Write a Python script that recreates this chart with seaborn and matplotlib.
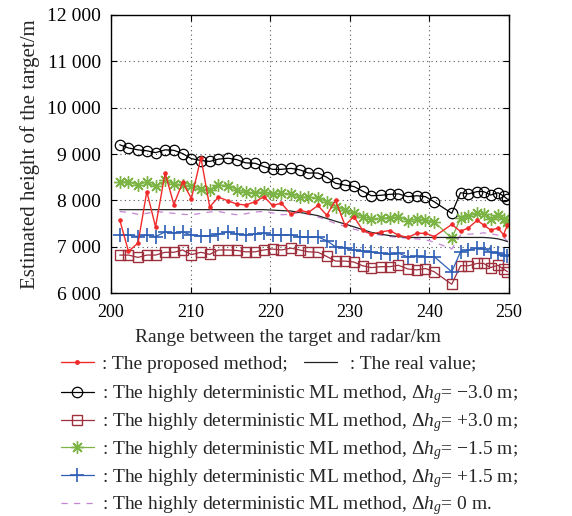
import pandas as pd
import seaborn as sns
import matplotlib.pyplot as plt
from matplotlib.lines import Line2D
from matplotlib.ticker import FuncFormatter, MultipleLocator

# range between target and radar (km)
range_km = [201.1, 202.2, 203.4, 204.5, 205.6, 206.8, 207.9, 209.0, 210.1, 211.3,
            212.4, 213.5, 214.7, 215.8, 216.9, 218.1, 219.2, 220.3, 221.4, 222.6,
            223.7, 224.8, 226.0, 227.1, 228.2, 229.4, 230.5, 231.6, 232.7, 233.9,
            235.0, 236.1, 237.3, 238.4, 239.5, 240.6, 242.8, 243.9, 244.9, 246.0,
            246.8, 247.7, 248.6, 249.3, 249.8]

proposed = [7580, 6900, 7080, 8190, 7430, 8590, 7910, 8390, 8040, 8920,
            7860, 8070, 7990, 7920, 7900, 7970, 8080, 7890, 7940, 7700,
            7790, 7740, 7890, 7680, 8000, 7460, 7650, 7360, 7270, 7320,
            7350, 7250, 7200, 7290, 7290, 7220, 7480, 7330, 7410, 7570,
            7470, 7360, 7400, 7260, 7470]

real_value = [7800, 7800, 7800, 7800, 7800, 7800, 7800, 7800, 7800, 7800,
              7800, 7800, 7800, 7800, 7800, 7800, 7800, 7790, 7780, 7770,
              7740, 7710, 7670, 7610, 7550, 7490, 7430, 7370, 7310, 7270,
              7240, 7220, 7200, 7200, 7200, 7200, 7200, 7200, 7200, 7200,
              7200, 7190, 7170, 7140, 7110]

ml_minus30 = [9200, 9130, 9090, 9070, 9030, 9090, 9080, 9010, 8900, 8860,
              8840, 8890, 8910, 8880, 8810, 8800, 8730, 8670, 8670, 8690,
              8660, 8590, 8590, 8500, 8370, 8330, 8300, 8200, 8100, 8110,
              8130, 8140, 8080, 8100, 8080, 7970, 7720, 8165, 8140, 8190,
              8190, 8115, 8165, 8095, 8025]

ml_plus30 = [6820, 6820, 6770, 6820, 6820, 6880, 6880, 6930, 6830, 6880,
             6835, 6930, 6930, 6920, 6890, 6890, 6930, 6950, 6930, 6970,
             6930, 6890, 6880, 6790, 6690, 6690, 6670, 6590, 6550, 6570,
             6570, 6600, 6520, 6500, 6530, 6460, 6190, 6590, 6590, 6640,
             6640, 6550, 6600, 6520, 6460]

ml_minus15 = [8400, 8400, 8330, 8400, 8300, 8430, 8350, 8340, 8300, 8240,
              8230, 8330, 8320, 8225, 8190, 8150, 8190, 8130, 8150, 8140,
              8070, 8070, 8050, 7970, 7865, 7790, 7720, 7650, 7600, 7610,
              7630, 7640, 7560, 7600, 7580, 7540, 7180, 7610, 7660, 7720,
              7705, 7590, 7685, 7590, 7540]

ml_plus15 = [7250, 7250, 7220, 7250, 7220, 7320, 7300, 7320, 7250, 7230,
             7230, 7275, 7320, 7275, 7250, 7275, 7290, 7250, 7260, 7250,
             7215, 7200, 7210, 7130, 7000, 6980, 6930, 6900, 6880, 6860,
             6840, 6860, 6780, 6790, 6785, 6785, 6460, 6890, 6930, 6965,
             6955, 6890, 6860, 6820, 6790]

ml_zero = [7760, 7740, 7700, 7720, 7760, 7740, 7720, 7700, 7690, 7720,
           7750, 7760, 7720, 7690, 7710, 7750, 7760, 7730, 7690, 7700,
           7740, 7700, 7640, 7580, 7500, 7440, 7380, 7330, 7280, 7250,
           7220, 7200, 7180, 7170, 7150, 7100, 6950, 7250, 7270, 7280,
           7300, 7280, 7250, 7200, 7120]

df = pd.DataFrame({
    "range": range_km,
    "proposed": proposed,
    "real": real_value,
    "m30": ml_minus30,
    "p30": ml_plus30,
    "m15": ml_minus15,
    "p15": ml_plus15,
    "zero": ml_zero,
})

sns.set_theme(style="ticks")
SERIF = ["Liberation Serif", "DejaVu Serif"]
plt.rcParams["font.family"] = SERIF
plt.rcParams["mathtext.fontset"] = "custom"
plt.rcParams["mathtext.rm"] = "Liberation Serif"
plt.rcParams["mathtext.it"] = "Liberation Serif:italic"
plt.rcParams["font.size"] = 13

RED = "#f02a2a"
DARKRED = "#9e2f3c"
GREEN = "#7cb445"
BLUE = "#2f5fb5"
PURPLE = "#c585d4"

styles = {
    "m30": dict(color="black", marker="o", markersize=7.5, markerfacecolor="none",
                markeredgecolor="black", markeredgewidth=0.9, linewidth=0.9),
    "p30": dict(color=DARKRED, marker="s", markersize=6.5, markerfacecolor="none",
                markeredgecolor=DARKRED, markeredgewidth=1.0, linewidth=0.9),
    "m15": dict(color=GREEN, marker=(8, 2, 0), markersize=9, markeredgecolor=GREEN,
                markeredgewidth=1.0, linewidth=0.9),
    "p15": dict(color=BLUE, marker="+", markersize=10, markeredgecolor=BLUE,
                markeredgewidth=1.2, linewidth=0.9),
    "zero": dict(color=PURPLE, linestyle=(0, (5, 5)), linewidth=0.9),
    "real": dict(color="#222222", linewidth=0.9),
    "proposed": dict(color=RED, marker="o", markersize=2.5, markeredgecolor=RED,
                     linewidth=1.0),
}

fig = plt.figure(figsize=(5.72, 5.16), dpi=100)
ax = fig.add_axes([0.194, 0.432, 0.696, 0.539])

for key in ["m30", "p30", "m15", "p15", "zero", "real", "proposed"]:
    sns.lineplot(data=df, x="range", y=key, ax=ax, sort=False, estimator=None,
                 **styles[key])

ax.set_xlim(200, 250)
ax.set_ylim(6000, 12000)
ax.xaxis.set_major_locator(MultipleLocator(10))
ax.yaxis.set_major_locator(MultipleLocator(1000))
ax.yaxis.set_major_formatter(FuncFormatter(lambda v, p: f"{int(v):,}".replace(",", " ")))
ax.tick_params(direction="in", top=True, right=True, length=4, width=0.8,
               colors="black")
ax.tick_params(axis="x", labelsize=13, pad=8)
ax.tick_params(axis="y", labelsize=14, pad=7)
ax.grid(True, linestyle=(0, (1, 3)), color="#555555", linewidth=0.8)
for s in ax.spines.values():
    s.set_color("black")
    s.set_linewidth(1.0)

ax.set_xlabel("Range between the target and radar/km", fontsize=14, family=SERIF)
ax.set_ylabel("Estimated height of the target/m", fontsize=15, family=SERIF)
ax.xaxis.set_label_coords(0.445, -0.13)
ax.yaxis.set_label_coords(-0.178, 0.5)

def handle(key):
    return Line2D([], [], **styles[key])

leg_kw = dict(frameon=False, fontsize=14, handlelength=1.7, handletextpad=0.41,
              borderpad=0, borderaxespad=0, labelspacing=0.25, columnspacing=0.85)

leg1 = fig.legend([handle("proposed"), handle("real")],
                  [": The proposed method;", " : The real value;"],
                  ncol=2, loc="upper left", bbox_to_anchor=(0.106, 0.312), **leg_kw)

ml = ": The highly deterministic ML method, $\\Delta h_g$= "
leg2 = fig.legend([handle("m30"), handle("p30"), handle("m15"), handle("p15"), handle("zero")],
                  [ml + "\u22123.0 m;", ml + "+3.0 m;", ml + "\u22121.5 m;",
                   ml + "+1.5 m;", ml + "0 m."],
                  loc="upper left", bbox_to_anchor=(0.106, 0.257), **leg_kw)

fig.savefig("out.png", dpi=100)
